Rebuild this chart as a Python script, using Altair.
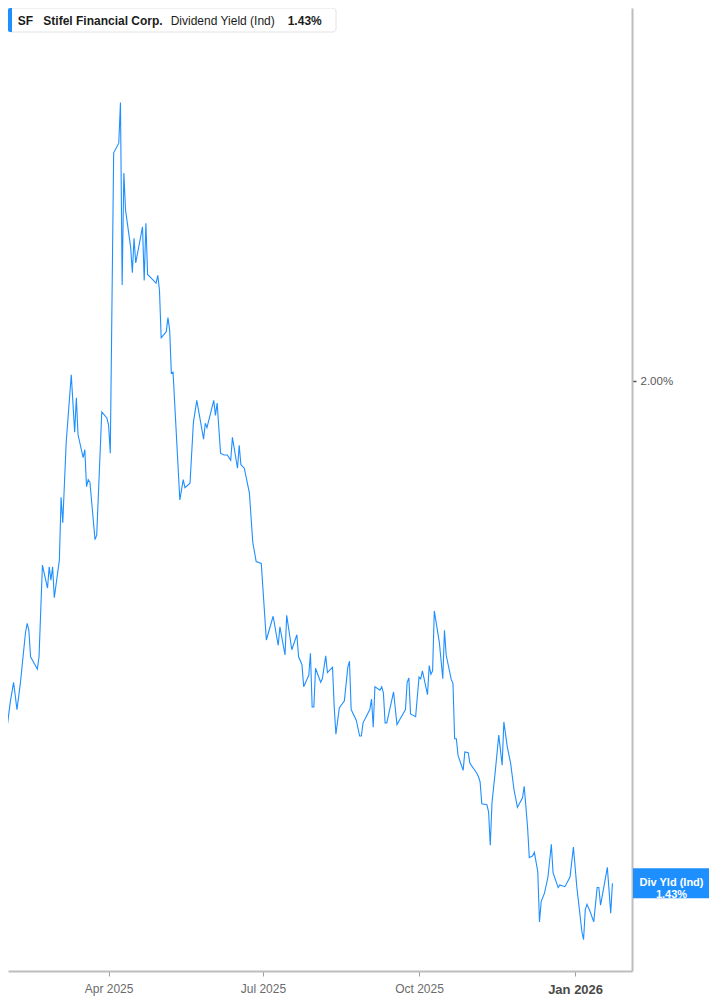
import altair as alt
import pandas as pd

# ---- data (dividend yield, %) ----
q1_dates = ["2025-01-27", "2025-01-28", "2025-01-29", "2025-01-30", "2025-01-31", "2025-02-02",
            "2025-02-04", "2025-02-06", "2025-02-08", "2025-02-11", "2025-02-12", "2025-02-13",
            "2025-02-14", "2025-02-18", "2025-02-19", "2025-02-21", "2025-02-24", "2025-02-25",
            "2025-02-26", "2025-02-27", "2025-02-28", "2025-03-03", "2025-03-04", "2025-03-05",
            "2025-03-07", "2025-03-10", "2025-03-12", "2025-03-13", "2025-03-14", "2025-03-17",
            "2025-03-18", "2025-03-19", "2025-03-20", "2025-03-21", "2025-03-24", "2025-03-25",
            "2025-03-28", "2025-03-31"]
q1_vals = [1.488, 1.613, 1.579, 1.579, 1.604, 1.635,
           1.658, 1.627, 1.657, 1.714, 1.725, 1.717,
           1.687, 1.673, 1.687, 1.791, 1.765, 1.789,
           1.774, 1.789, 1.754, 1.797, 1.868, 1.839,
           1.930, 2.007, 1.942, 1.981, 1.939, 1.913,
           1.922, 1.880, 1.888, 1.885, 1.820, 1.825,
           1.965, 1.958]

q2_dates = ["2025-04-01", "2025-04-02", "2025-04-04", "2025-04-07", "2025-04-08", "2025-04-09",
            "2025-04-10", "2025-04-11", "2025-04-14", "2025-04-15", "2025-04-16", "2025-04-17",
            "2025-04-21", "2025-04-22", "2025-04-23", "2025-04-24", "2025-04-27", "2025-04-29",
            "2025-04-30", "2025-05-01", "2025-05-02", "2025-05-05", "2025-05-06", "2025-05-07",
            "2025-05-08", "2025-05-09", "2025-05-13", "2025-05-15", "2025-05-16", "2025-05-19",
            "2025-05-21", "2025-05-23", "2025-05-27", "2025-05-28", "2025-05-29", "2025-06-02",
            "2025-06-03", "2025-06-04", "2025-06-06", "2025-06-08", "2025-06-10", "2025-06-12",
            "2025-06-13", "2025-06-16", "2025-06-17", "2025-06-18", "2025-06-20", "2025-06-23",
            "2025-06-25", "2025-06-27", "2025-06-30"]
q2_vals = [1.950, 1.918, 2.259, 2.270, 2.316, 2.109,
           2.236, 2.194, 2.152, 2.123, 2.162, 2.134,
           2.175, 2.114, 2.179, 2.121, 2.115, 2.111,
           2.120, 2.103, 2.049, 2.056, 2.072, 2.058,
           2.009, 2.010, 1.865, 1.888, 1.879, 1.884,
           1.953, 1.978, 1.934, 1.952, 1.947, 1.978,
           1.961, 1.975, 1.918, 1.916, 1.916, 1.910,
           1.936, 1.901, 1.927, 1.905, 1.901, 1.873,
           1.817, 1.795, 1.793]

q3_dates = ["2025-07-03", "2025-07-07", "2025-07-10", "2025-07-11", "2025-07-14", "2025-07-15",
            "2025-07-18", "2025-07-21", "2025-07-22", "2025-07-24", "2025-07-25", "2025-07-28",
            "2025-07-29", "2025-07-30", "2025-07-31", "2025-08-01", "2025-08-04", "2025-08-05",
            "2025-08-07", "2025-08-08", "2025-08-11", "2025-08-12", "2025-08-13", "2025-08-15",
            "2025-08-18", "2025-08-20", "2025-08-21", "2025-08-22", "2025-08-25", "2025-08-27",
            "2025-08-28", "2025-08-29", "2025-09-02", "2025-09-03", "2025-09-04", "2025-09-05",
            "2025-09-08", "2025-09-09", "2025-09-10", "2025-09-11", "2025-09-12", "2025-09-16",
            "2025-09-18", "2025-09-20", "2025-09-23", "2025-09-24", "2025-09-25", "2025-09-26",
            "2025-09-29"]
q3_vals = [1.706, 1.733, 1.700, 1.721, 1.689, 1.734,
           1.695, 1.712, 1.687, 1.678, 1.653, 1.666,
           1.691, 1.630, 1.630, 1.674, 1.658, 1.662,
           1.688, 1.669, 1.675, 1.630, 1.599, 1.629,
           1.637, 1.675, 1.682, 1.627, 1.615, 1.597,
           1.597, 1.612, 1.627, 1.639, 1.607, 1.653,
           1.649, 1.653, 1.646, 1.612, 1.612, 1.647,
           1.610, 1.617, 1.627, 1.658, 1.663, 1.622,
           1.619]

q4_dates = ["2025-10-01", "2025-10-02", "2025-10-03", "2025-10-06", "2025-10-07", "2025-10-08",
            "2025-10-09", "2025-10-10", "2025-10-13", "2025-10-15", "2025-10-16", "2025-10-17",
            "2025-10-20", "2025-10-21", "2025-10-22", "2025-10-23", "2025-10-24", "2025-10-27",
            "2025-10-28", "2025-10-30", "2025-10-31", "2025-11-04", "2025-11-05", "2025-11-06",
            "2025-11-07", "2025-11-10", "2025-11-11", "2025-11-12", "2025-11-13", "2025-11-15",
            "2025-11-17", "2025-11-19", "2025-11-20", "2025-11-22", "2025-11-24", "2025-11-26",
            "2025-11-28", "2025-12-01", "2025-12-02", "2025-12-04", "2025-12-05", "2025-12-07",
            "2025-12-08", "2025-12-10", "2025-12-11", "2025-12-12", "2025-12-14", "2025-12-16",
            "2025-12-18", "2025-12-19", "2025-12-22", "2025-12-23", "2025-12-26", "2025-12-29",
            "2025-12-31"]
q4_vals = [1.664, 1.662, 1.671, 1.644, 1.677, 1.667,
           1.671, 1.739, 1.703, 1.662, 1.717, 1.689,
           1.661, 1.657, 1.594, 1.594, 1.575, 1.558,
           1.579, 1.578, 1.566, 1.555, 1.551, 1.545,
           1.520, 1.519, 1.511, 1.473, 1.521, 1.558,
           1.598, 1.564, 1.613, 1.585, 1.566, 1.536,
           1.516, 1.527, 1.540, 1.493, 1.459, 1.461,
           1.465, 1.443, 1.386, 1.409, 1.419, 1.437,
           1.474, 1.442, 1.425, 1.428, 1.426, 1.437,
           1.471]

q5_dates = ["2026-01-02", "2026-01-05", "2026-01-06", "2026-01-07", "2026-01-08", "2026-01-10",
            "2026-01-12", "2026-01-14", "2026-01-15", "2026-01-16", "2026-01-18", "2026-01-20",
            "2026-01-22", "2026-01-23"]
q5_vals = [1.426, 1.375, 1.366, 1.400, 1.406, 1.397,
           1.386, 1.425, 1.425, 1.405, 1.426, 1.448,
           1.396, 1.430]

last_value = 1.43
y_ticks = [2.0]
ticker = "SF"
company = "Stifel Financial Corp."
metric = "Dividend Yield (Ind)"
badge_label = "Div Yld (Ind)"

df = pd.DataFrame({
    "date": q1_dates + q2_dates + q3_dates + q4_dates + q5_dates,
    "yield": q1_vals + q2_vals + q3_vals + q4_vals + q5_vals,
})

# ---- layout / style ----
W, H = 624, 963
PAD_R, PAD_B = 77, 25
BLUE = "#1E8FFF"
FONT = "Liberation Sans"
Y_TOP, Y_BOT = 2.4234, 1.3303
px_per_unit = H / (Y_TOP - Y_BOT)
half_box = 15.0 / px_per_unit

x_scale = alt.Scale(
    type="utc",
    domain=[alt.DateTime(year=2025, month=1, date=31, hours=17, utc=True),
            alt.DateTime(year=2026, month=2, date=3, hours=13, utc=True)],
)
y_scale = alt.Scale(domain=[Y_BOT, Y_TOP], zero=False, nice=False)

is_jan = "utcmonth(datum.value) === 0"
x_axis = alt.Axis(
    values=[alt.DateTime(year=2025, month=4, date=1, utc=True),
            alt.DateTime(year=2025, month=7, date=1, utc=True),
            alt.DateTime(year=2025, month=10, date=1, utc=True),
            alt.DateTime(year=2026, month=1, date=1, utc=True)],
    labelExpr="utcFormat(datum.value, '%b %Y')",
    title=None, grid=False,
    domainColor="#bdbdbd", domainWidth=2,
    tickColor="#9e9e9e", tickSize=5, tickWidth=1,
    labelPadding=7, labelFont=FONT,
    labelFontSize={"condition": {"test": is_jan, "value": 13}, "value": 12},
    labelFontWeight={"condition": {"test": is_jan, "value": "bold"}, "value": "normal"},
    labelColor={"condition": {"test": is_jan, "value": "#4a4a4a"}, "value": "#6b6b6b"},
    labelOverlap=False, labelFlush=False,
)
y_axis = alt.Axis(
    orient="right", values=y_ticks,
    labelExpr="format(datum.value, '.2f') + '%'",
    title=None, grid=False,
    domainColor="#bdbdbd", domainWidth=2,
    tickColor="#555555", tickSize=4, tickWidth=1.5,
    labelPadding=4, labelFont=FONT, labelFontSize=11.5, labelColor="#5a5a5a",
)

line = alt.Chart(df).mark_line(color=BLUE, strokeWidth=1.1).encode(
    x=alt.X("date:T", scale=x_scale, axis=x_axis),
    y=alt.Y("yield:Q", scale=y_scale, axis=y_axis),
)

one = pd.DataFrame({"k": [0]})

badge = alt.Chart(one).mark_rect(color=BLUE).encode(
    x=alt.value(W + 1), x2=alt.value(W + PAD_R),
    y=alt.datum(last_value + half_box), y2=alt.datum(last_value - half_box),
)
badge_text = alt.Chart(one).mark_text(
    color="white", font=FONT, fontSize=11, fontWeight="bold",
    align="center", baseline="middle", lineHeight=12,
).encode(
    x=alt.value(W + 1 + PAD_R / 2), y=alt.datum(last_value),
    text=alt.value([badge_label, f"{last_value:.2f}%"]),
)

legend_bg = alt.Chart(one).mark_rect(
    fill="white", stroke="#e2e2e2", strokeWidth=1, cornerRadius=3,
).encode(x=alt.value(0), x2=alt.value(328), y=alt.value(0), y2=alt.value(24))
legend_bar = alt.Chart(one).mark_rect(
    color=BLUE, cornerRadiusTopLeft=2, cornerRadiusBottomLeft=2,
).encode(x=alt.value(0), x2=alt.value(4), y=alt.value(0), y2=alt.value(24))


def legend_text(txt, xpos, weight):
    return alt.Chart(one).mark_text(
        align="left", baseline="middle", font=FONT, fontSize=12,
        fontWeight=weight, color="#1c1c1c",
    ).encode(x=alt.value(xpos), y=alt.value(12.5), text=alt.value(txt))


chart = alt.layer(
    line, badge, badge_text, legend_bg, legend_bar,
    legend_text(ticker, 9.7, "bold"),
    legend_text(company, 35.3, "bold"),
    legend_text(metric, 162.7, "normal"),
    legend_text(f"{last_value:.2f}%", 279.7, "bold"),
).properties(
    width=W, height=H,
    autosize=alt.AutoSizeParams(type="none"),
    padding={"left": 0, "top": 0, "right": PAD_R, "bottom": PAD_B},
    background="white",
).configure_view(stroke=None)

chart.save("out.html", embed_options={"renderer": "svg", "actions": False})
